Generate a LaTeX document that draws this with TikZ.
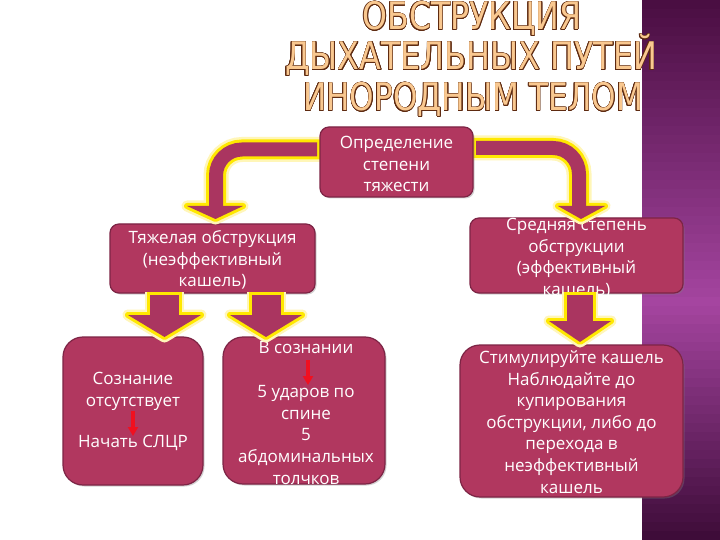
\documentclass[tikz,border=0pt]{standalone}
\usepackage{fontspec}
\setmainfont{Open Sans}
\newfontfamily\titlefont{DejaVu Sans}
\usepackage{graphicx}
\usepackage[copies]{contour}
\contourlength{0.65pt}
\usetikzlibrary{shadows,arrows.meta}
\definecolor{boxfill}{HTML}{B1375F}
\definecolor{boxline}{HTML}{7D2445}
\definecolor{arrfill}{HTML}{AA3560}
\definecolor{arryel}{HTML}{FFE800}
\definecolor{glowc}{HTML}{FFF6B8}
\definecolor{ttlfill}{HTML}{F9C890}
\definecolor{ttlline}{HTML}{5E2A10}
\definecolor{bandtop}{HTML}{4A0E42}
\definecolor{bandmid}{HTML}{A545A0}
\definecolor{bandbot}{HTML}{3A0A35}
\definecolor{redarrc}{HTML}{F01020}
\begin{document}
\begin{tikzpicture}[x=1pt,y=-1pt,
  card/.style={draw=boxline, line width=1.2pt, fill=boxfill, rounded corners=9pt,
    drop shadow={opacity=0.35,shadow xshift=1.5pt,shadow yshift=-1.5pt}, inner sep=0pt},
  bigcard/.style={card, rounded corners=20pt},
  txt/.style={text=white, font=\fontsize{17}{21.6}\selectfont, align=center, inner sep=0pt},
  ttl/.style={font=\titlefont\fontsize{38}{40}\selectfont, anchor=base, inner sep=0pt, text=ttlfill},
  redarr/.style={draw=redarrc, line width=3.4pt, -{Triangle[length=9pt,width=10pt]}},
  glowline/.style={draw=glowc, line width=#1},
  yelline/.style={draw=arryel, line width=#1},
  fillline/.style={draw=arrfill, line width=#1},
]
\useasboundingbox (0,0) rectangle (720,540);
\fill[white] (0,0) rectangle (720,540);
% purple band, built from strips
\foreach \i in {0,...,59}{
  \pgfmathtruncatemacro{\ya}{\i*9}
  \pgfmathtruncatemacro{\yb}{\i*9+10}
  \ifnum\i<33
    \pgfmathtruncatemacro{\mx}{100*\i/33}
    \fill[bandmid!\mx!bandtop] (642,\ya) rectangle (720,\yb);
  \else
    \pgfmathtruncatemacro{\mx}{100*(\i-33)/27}
    \fill[bandbot!\mx!bandmid] (642,\ya) rectangle (720,\yb);
  \fi
}

% title
\node[ttl] (t1) at (472,30) {\resizebox{219pt}{\height}{\contour{ttlline}{ОБСТРУКЦИЯ}}};
\node[ttl] (t2) at (471,70) {\resizebox{372pt}{\height}{\contour{ttlline}{ДЫХАТЕЛЬНЫХ ПУТЕЙ}}};
\node[ttl] (t3) at (473,111) {\resizebox{340pt}{\height}{\contour{ttlline}{ИНОРОДНЫМ ТЕЛОМ}}};

% second level boxes
\node[card, minimum width=205pt, minimum height=69pt] (B) at (212.5,258.5) {};
\node[txt] (Bt) at (212.5,260) {Тяжелая обструкция\\(неэффективный\\кашель)};
\node[card, minimum width=213pt, minimum height=75pt] (C) at (576.5,255.5) {};
\node[txt] (Ct) at (576.5,258) {Средняя степень\\обструкции\\(эффективный\\кашель)};

% third level boxes
\node[bigcard, minimum width=140pt, minimum height=148pt] (D) at (133,411) {};
\node[txt] (Dt1) at (133,391.5) {Сознание\\отсутствует};
\node[txt] (Dt2) at (133,443) {Начать СЛЦР};
\node[bigcard, minimum width=162pt, minimum height=147pt] (E) at (304,410.5) {};
\node[txt] (Et1) at (306,348) {В сознании};
\node[txt] (Et2) at (306,435) {5 ударов по\\спине\\5\\абдоминальных\\толчков};
\node[bigcard, minimum width=223pt, minimum height=152pt] (F) at (571.5,421) {};
\node[txt] (Ft) at (571.5,422) {Стимулируйте кашель\\Наблюдайте до\\купирования\\обструкции, либо до\\перехода в\\неэффективный\\кашель};

% red arrows
\coordinate (r1a) at (133,411);
\coordinate (r1b) at (133,436);
\draw[redarr] (r1a) -- (r1b);
\coordinate (r2a) at (308,360);
\coordinate (r2b) at (308,385);
\draw[redarr] (r2a) -- (r2b);

% left curved arrow
\coordinate (L0) at (320,149.5);
\coordinate (L0f) at (317,149.5);
\coordinate (L1) at (216,149.5);
\coordinate (L2) at (216,206);
\coordinate (L2f) at (216,208);
\coordinate (Lh1) at (187,206);
\coordinate (Lh2) at (243,206);
\coordinate (Lh3) at (215.5,219);
\draw[glowline=25pt, rounded corners=26pt] (L0) -- (L1) -- (L2);
\filldraw[fill=glowc, glowline=11pt, line join=round] (Lh1) -- (Lh2) -- (Lh3) -- cycle;
\draw[yelline=20pt, rounded corners=26pt] (L0) -- (L1) -- (L2);
\filldraw[fill=arryel, yelline=6pt, line join=round] (Lh1) -- (Lh2) -- (Lh3) -- cycle;
\draw[fillline=14pt, rounded corners=26pt] (L0f) -- (L1) -- (L2f);
\fill[arrfill] (Lh1) -- (Lh2) -- (Lh3) -- cycle;

% right curved arrow
\coordinate (R0) at (473,148);
\coordinate (R0f) at (476,148);
\coordinate (R1) at (579,148);
\coordinate (R2) at (579,206);
\coordinate (R2f) at (579,208);
\coordinate (Rh1) at (558,206);
\coordinate (Rh2) at (605,206);
\coordinate (Rh3) at (581,219);
\draw[glowline=25pt, rounded corners=26pt] (R0) -- (R1) -- (R2);
\filldraw[fill=glowc, glowline=11pt, line join=round] (Rh1) -- (Rh2) -- (Rh3) -- cycle;
\draw[yelline=20pt, rounded corners=26pt] (R0) -- (R1) -- (R2);
\filldraw[fill=arryel, yelline=6pt, line join=round] (Rh1) -- (Rh2) -- (Rh3) -- cycle;
\draw[fillline=14pt, rounded corners=26pt] (R0f) -- (R1) -- (R2f);
\fill[arrfill] (Rh1) -- (Rh2) -- (Rh3) -- cycle;

% down arrow 1
\coordinate (a0) at (164.5,292);
\coordinate (a0f) at (164.5,295);
\coordinate (a1) at (164.5,315);
\coordinate (a1f) at (164.5,317);
\coordinate (ah1) at (128,315);
\coordinate (ah2) at (201,315);
\coordinate (ah3) at (164.5,337);
\draw[glowline=39pt] (a0) -- (a1);
\filldraw[fill=glowc, glowline=11pt, line join=round] (ah1) -- (ah2) -- (ah3) -- cycle;
\draw[yelline=35pt] (a0) -- (a1);
\filldraw[fill=arryel, yelline=6pt, line join=round] (ah1) -- (ah2) -- (ah3) -- cycle;
\draw[fillline=29pt] (a0f) -- (a1f);
\fill[arrfill] (ah1) -- (ah2) -- (ah3) -- cycle;

% down arrow 2
\coordinate (b0) at (266,292);
\coordinate (b0f) at (266,295);
\coordinate (b1) at (266,315);
\coordinate (b1f) at (266,317);
\coordinate (bh1) at (230,315);
\coordinate (bh2) at (302,315);
\coordinate (bh3) at (266,337);
\draw[glowline=39pt] (b0) -- (b1);
\filldraw[fill=glowc, glowline=11pt, line join=round] (bh1) -- (bh2) -- (bh3) -- cycle;
\draw[yelline=35pt] (b0) -- (b1);
\filldraw[fill=arryel, yelline=6pt, line join=round] (bh1) -- (bh2) -- (bh3) -- cycle;
\draw[fillline=29pt] (b0f) -- (b1f);
\fill[arrfill] (bh1) -- (bh2) -- (bh3) -- cycle;

% down arrow 3
\coordinate (c0) at (580,292);
\coordinate (c0f) at (580,295);
\coordinate (c1) at (580,321);
\coordinate (c1f) at (580,323);
\coordinate (ch1) at (549,321);
\coordinate (ch2) at (611,321);
\coordinate (ch3) at (580,342);
\draw[glowline=36pt] (c0) -- (c1);
\filldraw[fill=glowc, glowline=11pt, line join=round] (ch1) -- (ch2) -- (ch3) -- cycle;
\draw[yelline=32pt] (c0) -- (c1);
\filldraw[fill=arryel, yelline=6pt, line join=round] (ch1) -- (ch2) -- (ch3) -- cycle;
\draw[fillline=26pt] (c0f) -- (c1f);
\fill[arrfill] (ch1) -- (ch2) -- (ch3) -- cycle;

% top box
\node[card, minimum width=153pt, minimum height=70pt] (A) at (396.5,162) {};
\node[txt] (At) at (396.5,164) {Определение\\степени\\тяжести};
\end{tikzpicture}
\end{document}
